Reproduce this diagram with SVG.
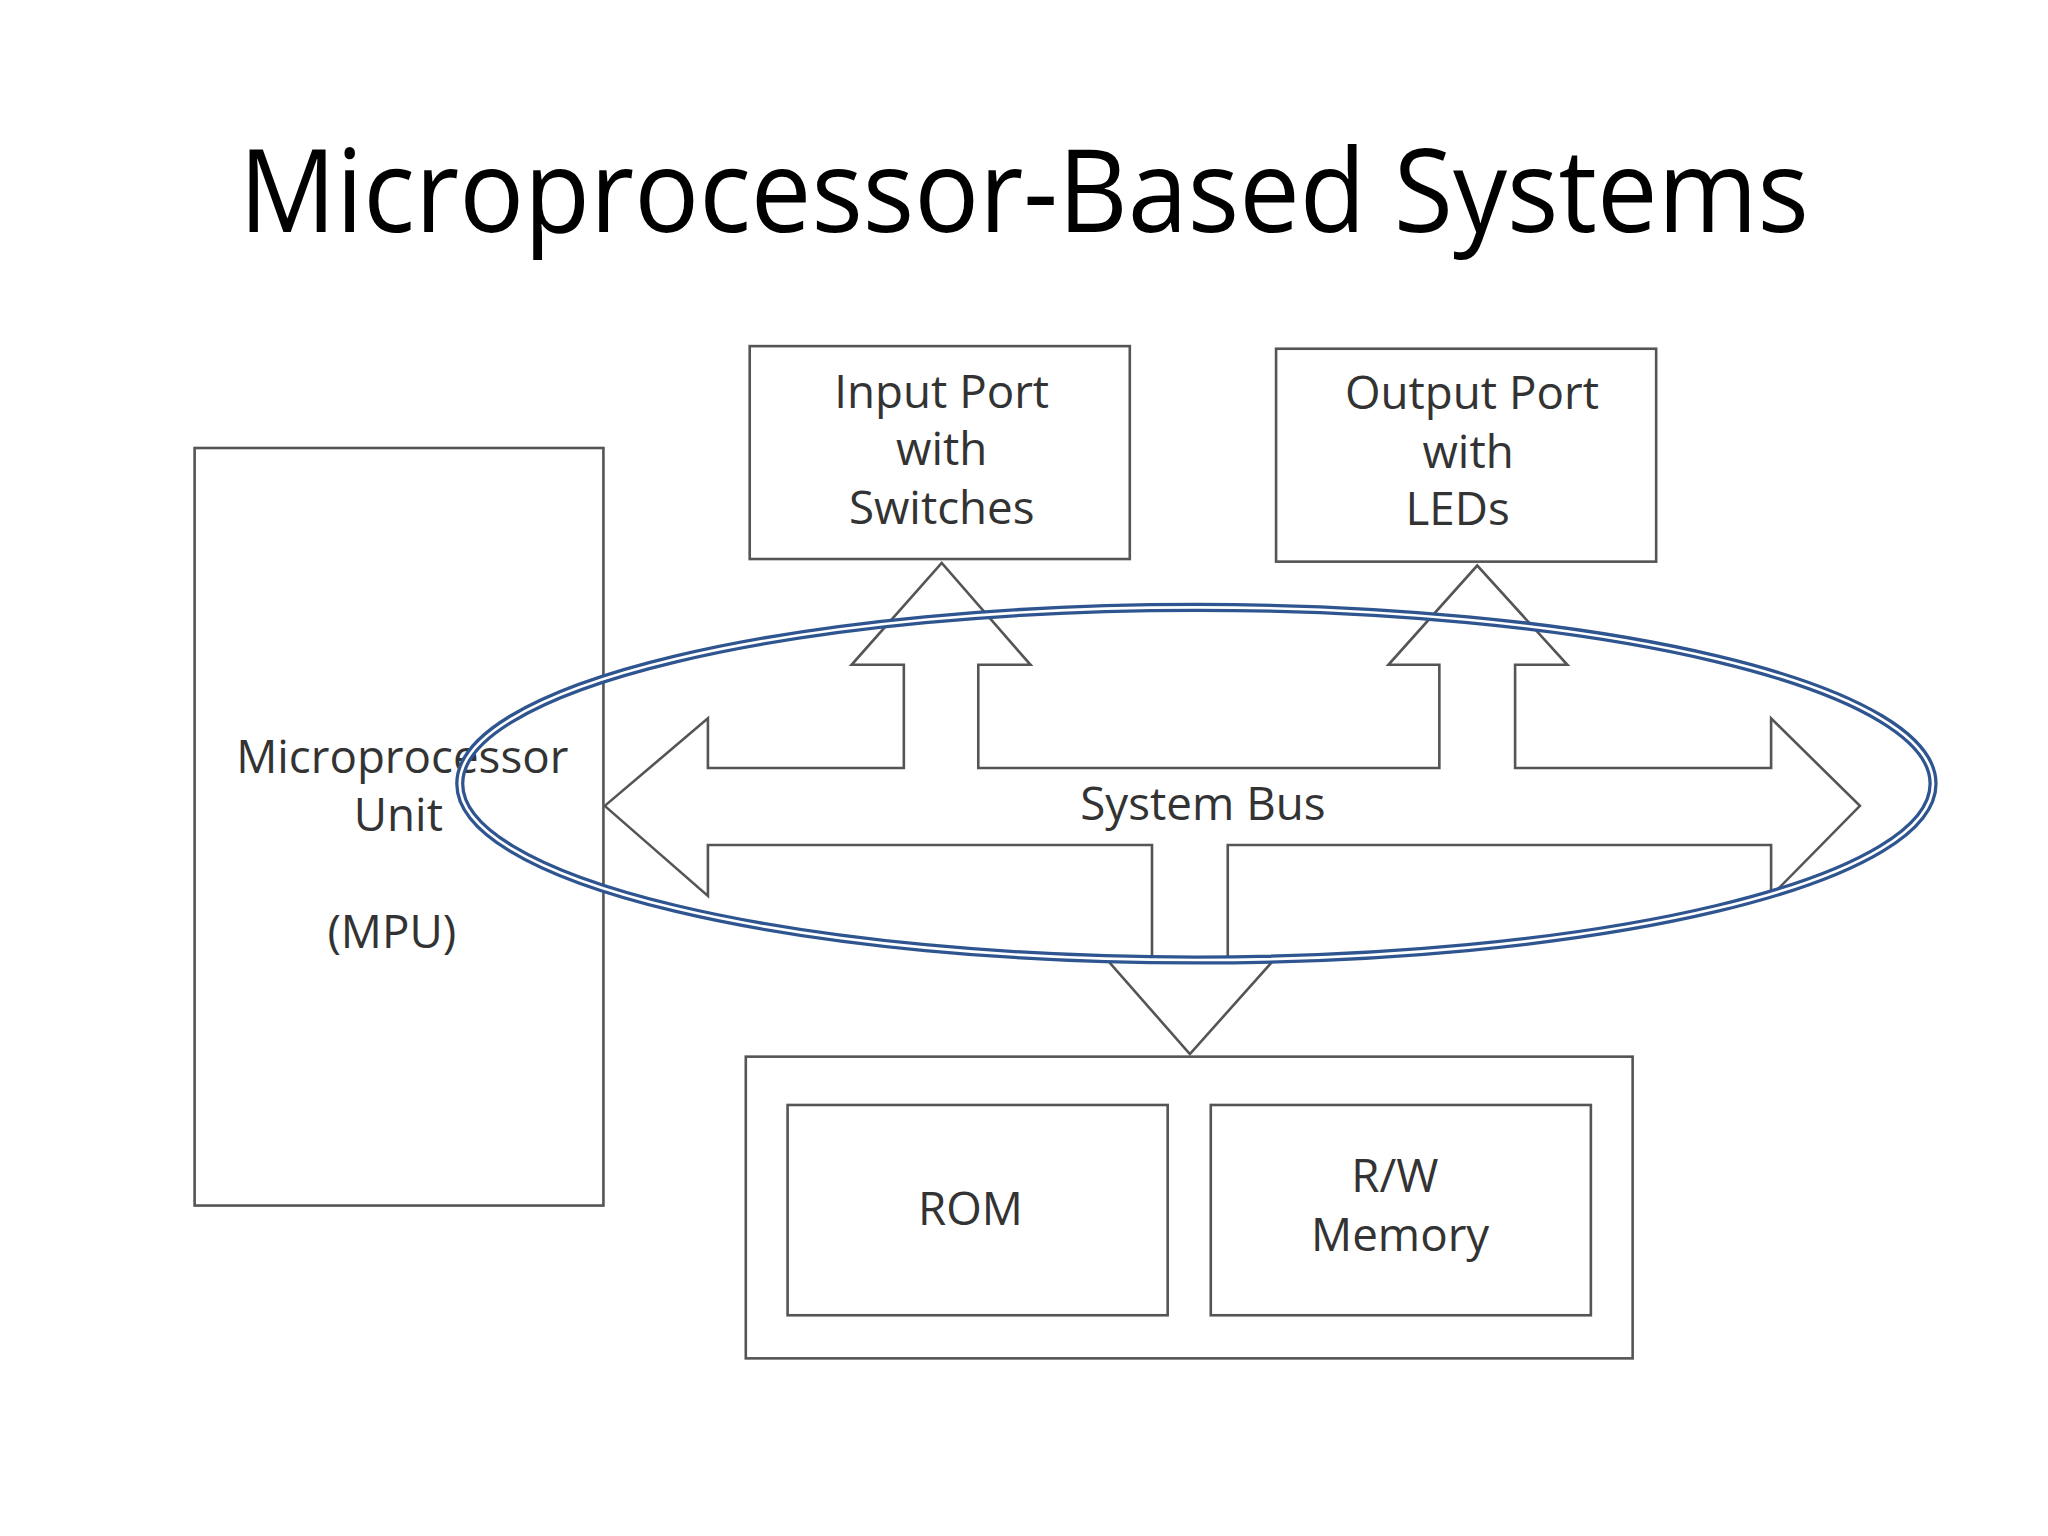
<svg xmlns="http://www.w3.org/2000/svg" width="2048" height="1536" viewBox="0 0 2048 1536">
<style>
.box{fill:none;stroke:#555;stroke-width:2}
.lbl{font-family:"Open Sans","Liberation Sans",sans-serif;font-size:35px;fill:#333;text-anchor:middle}
</style>
<rect width="2048" height="1536" fill="#fff"/>
<text x="1024" y="232" font-family="'Open Sans','Liberation Sans',sans-serif" font-size="116" text-anchor="middle" textLength="1570" lengthAdjust="spacingAndGlyphs" fill="#000">Microprocessor-Based Systems</text>
<g transform="scale(1.30612)">
<g id="connectors">
<path class="box" d="M463,617 L542,550 L542,588 L692,588 L692,509 L652,509 L721,431 L789,509 L749,509 L749,588 L1102,588 L1102,509 L1063,509 L1131,433 L1200,509 L1160,509 L1160,588 L1356,588 L1356,550 L1424,617 L1356,686 L1356,647 L940,647 L940,733 L977,733 L911,807 L846,733 L882,733 L882,647 L542,647 L542,686 Z"/>
<text class="lbl" x="921" y="628">System Bus</text>
</g>
<g id="mpu"><rect class="box" x="149" y="343" width="313" height="580"/>
<text class="lbl" x="308" y="592">Microprocessor</text><text class="lbl" x="305" y="636">Unit</text><text class="lbl" x="300" y="726">(MPU)</text></g>
<g id="input"><rect class="box" x="574" y="265" width="291" height="163"/>
<text class="lbl" x="721" y="312">Input Port</text><text class="lbl" x="721" y="356">with</text><text class="lbl" x="721" y="401">Switches</text></g>
<g id="output"><rect class="box" x="977" y="267" width="291" height="163"/>
<text class="lbl" x="1127" y="313">Output Port</text><text class="lbl" x="1124" y="358">with</text><text class="lbl" x="1116" y="402">LEDs</text></g>
<g id="memory"><rect class="box" x="571" y="809" width="679" height="231"/>
<g id="rom"><rect class="box" x="603" y="846" width="291" height="161"/><text class="lbl" x="743" y="938">ROM</text></g>
<g id="rw"><rect class="box" x="927" y="846" width="291" height="161"/><text class="lbl" x="1068" y="913">R/W</text><text class="lbl" x="1072" y="958">Memory</text></g></g>
<g id="highlight">
<ellipse cx="916" cy="600" rx="564" ry="135" fill="none" stroke="#2f5590" stroke-width="7"/>
<ellipse cx="916" cy="600" rx="564" ry="135" fill="none" stroke="#fff" stroke-width="2"/>
</g>
</g>
</svg>
